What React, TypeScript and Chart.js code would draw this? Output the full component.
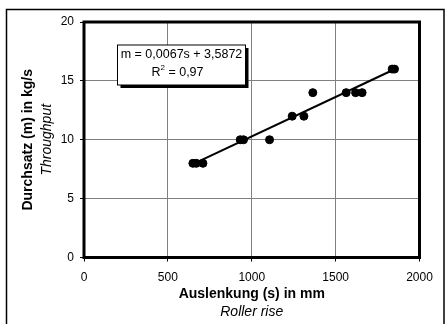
import React, { useEffect, useRef } from "react";
import { Chart, registerables } from "chart.js";

Chart.register(...registerables);

const sValues = [649, 669, 709, 931, 951, 1106, 1241, 1311, 1364, 1563, 1619, 1658, 1837, 1851];
const mValues = [8, 8, 8, 10, 10, 10, 12, 12, 14, 14, 14, 14, 16, 16];
const trendSlope = 0.0067;
const trendIntercept = 3.5872;
const equationText = "m = 0,0067s + 3,5872";
const r2Value = "0,97";
const xTitle = "Auslenkung (s) in mm";
const xSubtitle = "Roller rise";
const yTitle = "Durchsatz (m) in kg/s";
const ySubtitle = "Throughput";

const FONT = "'Liberation Sans', Arial, sans-serif";

export default function App() {
  const ref = useRef<HTMLCanvasElement | null>(null);

  useEffect(() => {
    const canvas = ref.current;
    if (!canvas) return;
    const minS = Math.min(...sValues);
    const maxS = Math.max(...sValues);
    const trend = [minS, maxS].map((s) => ({ x: s, y: trendSlope * s + trendIntercept }));

    const decor = {
      id: "decor",
      beforeDatasetsDraw(chart: any) {
        const { ctx, chartArea } = chart;
        ctx.save();
        ctx.strokeStyle = "#000";
        ctx.lineWidth = 3;
        ctx.strokeRect(chartArea.left, chartArea.top, chartArea.right - chartArea.left, chartArea.bottom - chartArea.top);
        ctx.restore();
      },
      afterDraw(chart: any) {
        const { ctx, chartArea } = chart;
        ctx.save();
        // outer frame
        ctx.strokeStyle = "#000";
        ctx.lineWidth = 1.5;
        ctx.strokeRect(6.5, 9.5, 437.5, 330);
        // axis titles
        ctx.fillStyle = "#000";
        ctx.textAlign = "center";
        ctx.textBaseline = "middle";
        const cx = (chartArea.left + chartArea.right) / 2;
        ctx.font = `bold 14px ${FONT}`;
        ctx.fillText(xTitle, cx, 294);
        ctx.font = `italic 14px ${FONT}`;
        ctx.fillText(xSubtitle, cx, 312);
        const cy = (chartArea.top + chartArea.bottom) / 2;
        ctx.save();
        ctx.translate(28, cy);
        ctx.rotate(-Math.PI / 2);
        ctx.font = `bold 14px ${FONT}`;
        ctx.fillText(yTitle, 0, 0);
        ctx.restore();
        ctx.save();
        ctx.translate(47, cy);
        ctx.rotate(-Math.PI / 2);
        ctx.font = `italic 14px ${FONT}`;
        ctx.fillText(ySubtitle, 0, 0);
        ctx.restore();
        // equation box
        const bx = 117.5, by = 45, bw = 128, bh = 40;
        ctx.fillStyle = "#000";
        ctx.fillRect(bx + 3, by + 3, bw, bh);
        ctx.fillStyle = "#fff";
        ctx.fillRect(bx, by, bw, bh);
        ctx.lineWidth = 1;
        ctx.strokeStyle = "#000";
        ctx.strokeRect(bx, by, bw, bh);
        ctx.fillStyle = "#000";
        ctx.font = `12.5px ${FONT}`;
        ctx.textAlign = "center";
        ctx.fillText(equationText, bx + bw / 2, 55);
        // R² line
        const partA = "R";
        const partB = " = " + r2Value;
        ctx.font = `12.5px ${FONT}`;
        const wA = ctx.measureText(partA).width;
        const wB = ctx.measureText(partB).width;
        ctx.font = `8px ${FONT}`;
        const wS = ctx.measureText("2").width;
        const total = wA + wS + wB;
        const x0 = bx + bw / 2 - total / 2 - 4;
        ctx.textAlign = "left";
        ctx.font = `12.5px ${FONT}`;
        ctx.fillText(partA, x0, 73);
        ctx.font = `8px ${FONT}`;
        ctx.fillText("2", x0 + wA, 68);
        ctx.font = `12.5px ${FONT}`;
        ctx.fillText(partB, x0 + wA + wS, 73);
        ctx.restore();
      },
    };

    const chart = new Chart(canvas, {
      type: "scatter",
      data: {
        datasets: [
          {
            type: "scatter",
            data: sValues.map((s, i) => ({ x: s, y: mValues[i] })),
            backgroundColor: "#000",
            borderColor: "#000",
            pointRadius: 4,
            pointHoverRadius: 4,
            order: 2,
          },
          {
            type: "line",
            data: trend,
            borderColor: "#000",
            borderWidth: 2,
            pointRadius: 0,
            fill: false,
            order: 1,
          } as any,
        ],
      },
      options: {
        responsive: false,
        animation: false,
        devicePixelRatio: 1,
        layout: { padding: { left: 0, top: 22, right: 26.5, bottom: 0 } },
        plugins: { legend: { display: false }, tooltip: { enabled: false } },
        scales: {
          x: {
            type: "linear",
            min: 0,
            max: 2000,
            ticks: {
              stepSize: 500,
              color: "#000",
              font: { family: FONT, size: 12 },
              padding: 9,
              maxRotation: 0,
              callback: (v: any) => String(v),
            },
            grid: { color: "#808080", lineWidth: 1, tickColor: "#000", tickLength: 4, drawTicks: true },
            border: { display: false },
            afterFit: (s: any) => { s.height = 66.5; },
          },
          y: {
            type: "linear",
            min: 0,
            max: 20,
            ticks: {
              stepSize: 5,
              color: "#000",
              font: { family: FONT, size: 12 },
              padding: 6,
              callback: (v: any) => String(v),
            },
            grid: { color: "#808080", lineWidth: 1, tickColor: "#000", tickLength: 4, drawTicks: true },
            border: { display: false },
            afterFit: (s: any) => { s.width = 84; },
          },
        },
      },
      plugins: [decor],
    });
    return () => chart.destroy();
  }, []);

  return (
    <div style={{ position: "fixed", left: 0, top: 0, width: 446, height: 324, background: "#fff" }}>
      <canvas ref={ref} width={446} height={324} style={{ display: "block" }} />
    </div>
  );
}
